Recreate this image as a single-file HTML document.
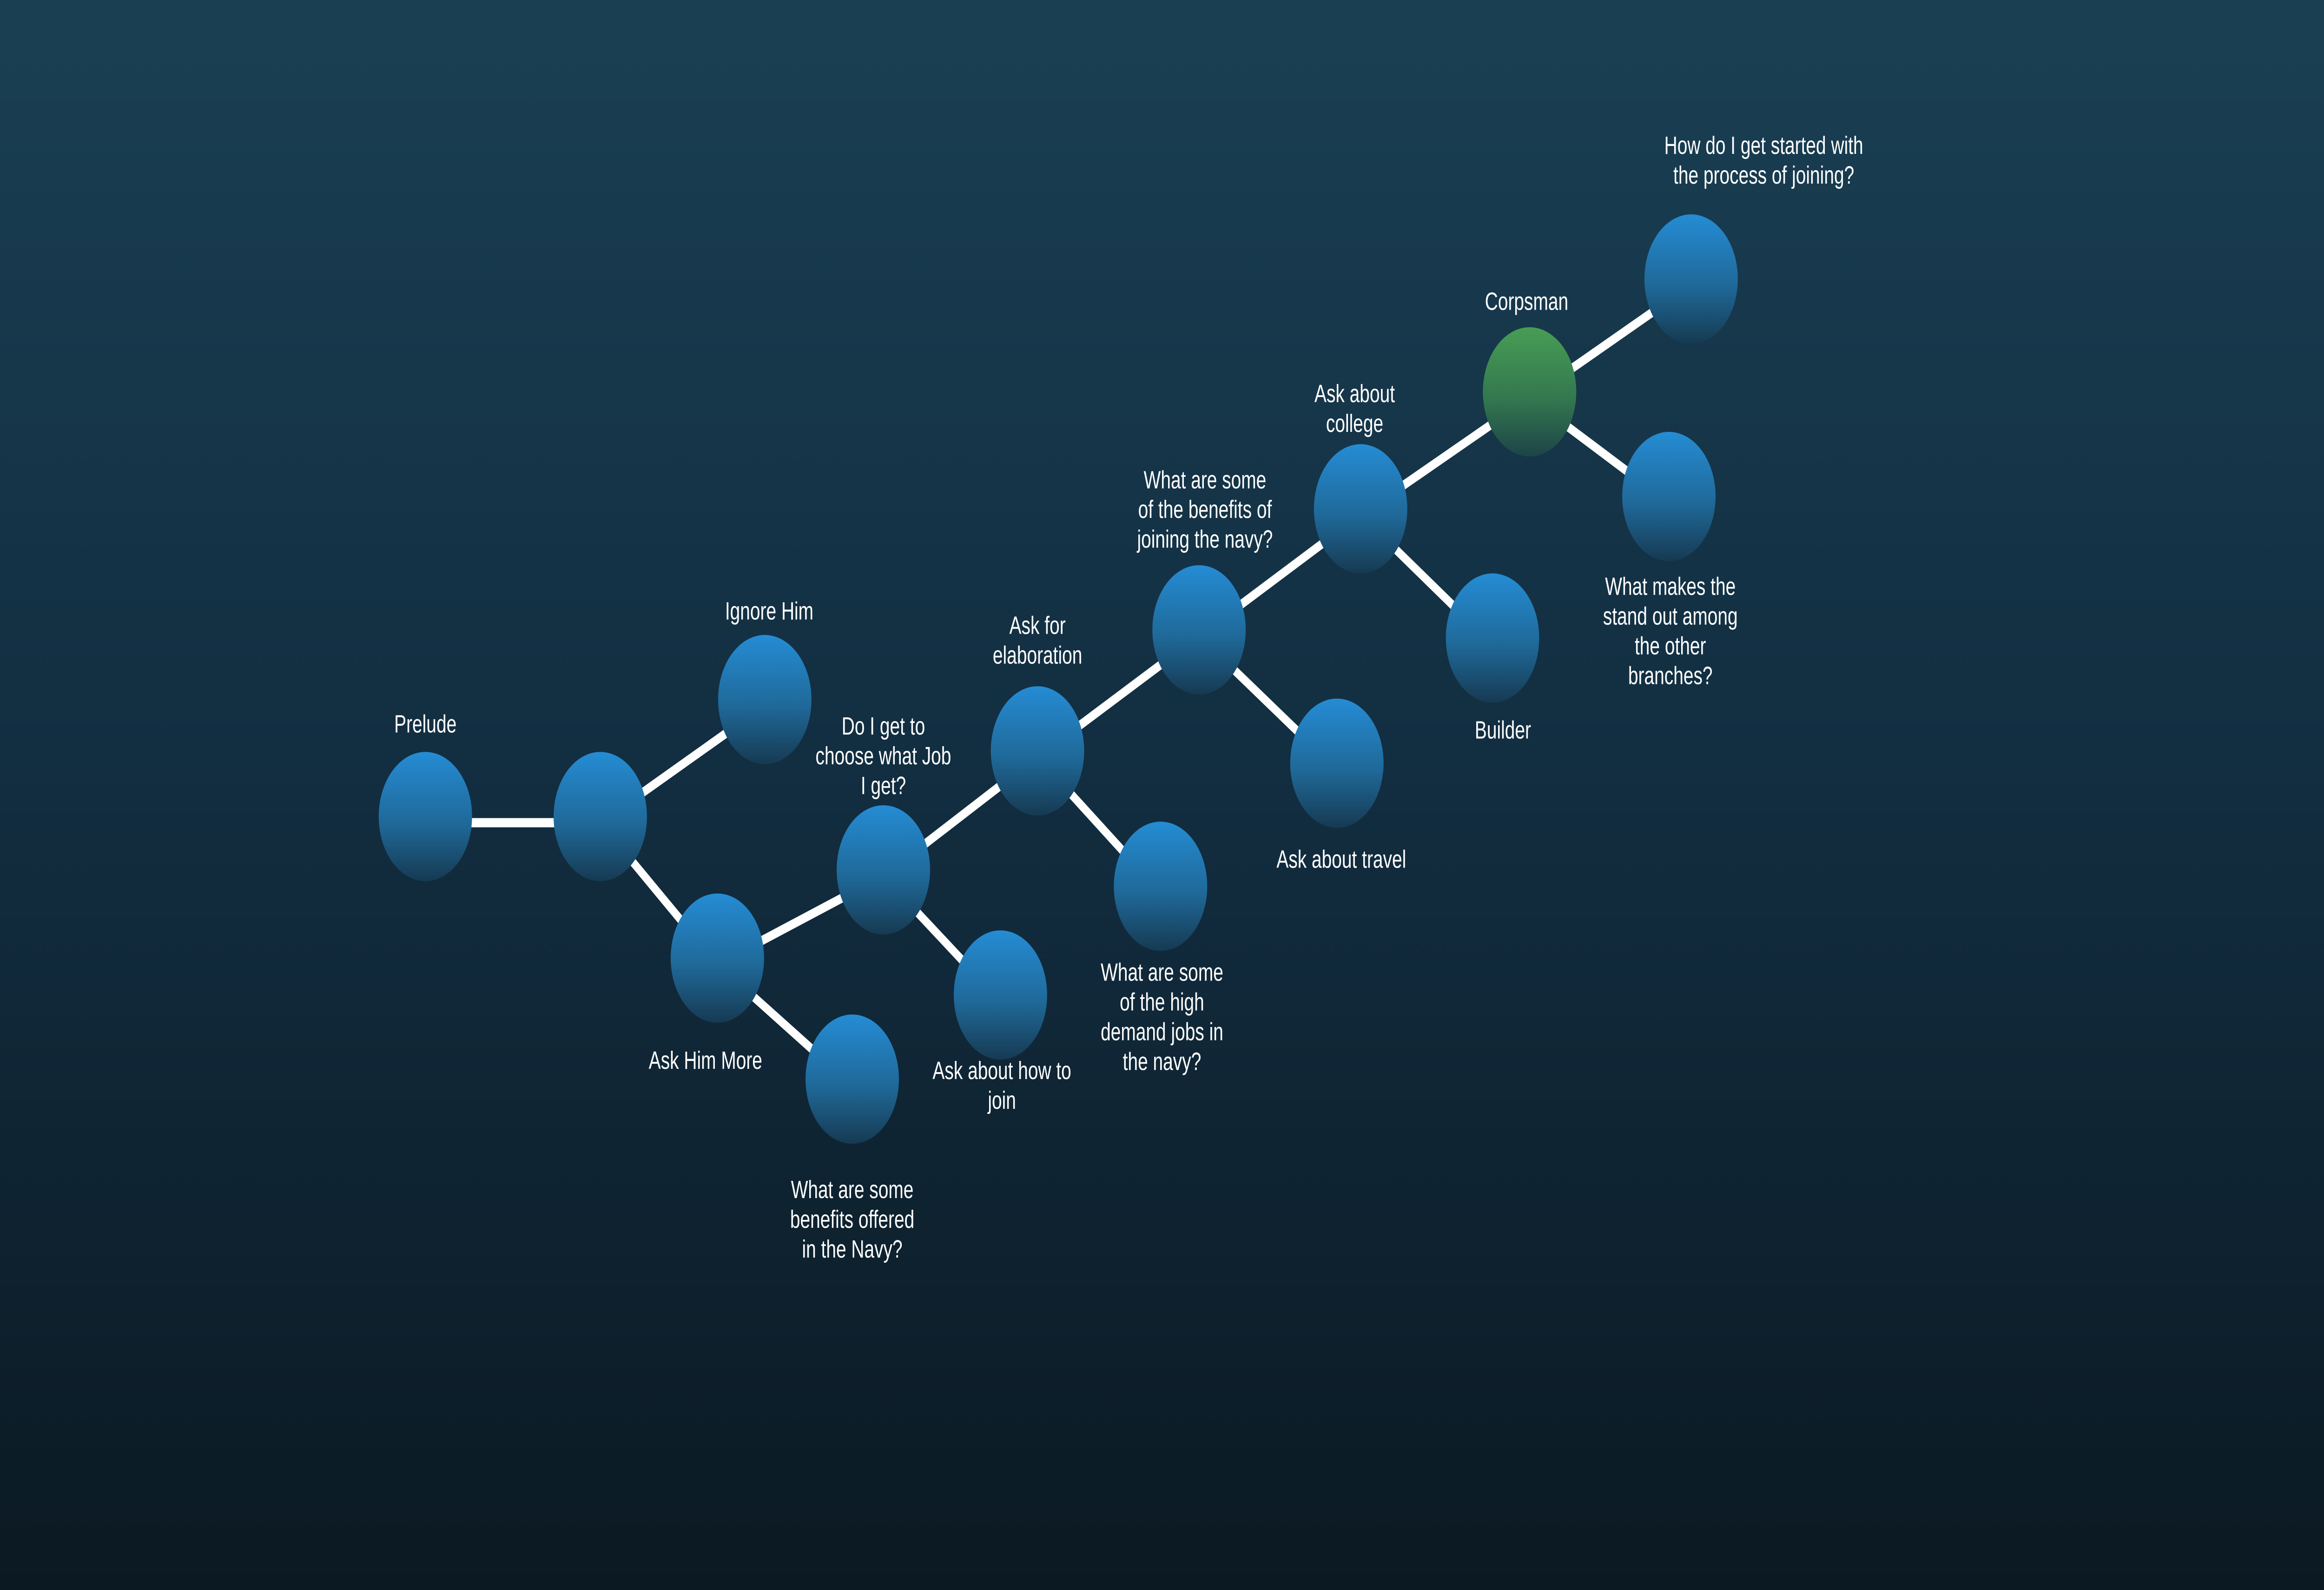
<!DOCTYPE html>
<html><head><meta charset="utf-8"><style>
html,body{margin:0;padding:0;width:100vw;height:100vh;overflow:hidden;background:#0b1922}
svg{display:block;width:100vw;height:100vh}
text{font-family:"Liberation Sans",sans-serif;fill:#fff;text-anchor:middle}
</style></head><body>
<svg id="chart" viewBox="0 0 1568 775" preserveAspectRatio="none" xmlns="http://www.w3.org/2000/svg">
<defs>
<linearGradient id="bg" x1="0" y1="0" x2="0" y2="1">
<stop offset="0" stop-color="#1a3f53"/><stop offset="0.5" stop-color="#122d40"/><stop offset="1" stop-color="#0b1922"/>
</linearGradient>
<linearGradient id="gb" x1="0" y1="0" x2="0" y2="1">
<stop offset="0" stop-color="#258cd4"/><stop offset="0.55" stop-color="#1f6999"/><stop offset="1" stop-color="#163a52"/>
</linearGradient>
<linearGradient id="gg" x1="0" y1="0" x2="0" y2="1">
<stop offset="0" stop-color="#479d55"/><stop offset="0.55" stop-color="#33784e"/><stop offset="1" stop-color="#1d4448"/>
</linearGradient>
</defs>
<rect x="0" y="0" width="1568" height="775" fill="url(#bg)"/>
<g id="edges"></g><g id="nodes"></g><g id="labels"></g>
</svg>
<script>
const nodeX = [287,405,516,484,575,596,675,700,783,809,902,918,1007,1032,1141,1126];
const nodeY = [398,398,341,467,526,424,485,366,432,307,372,248,311,191,136,242];
const nodeNames = ['prelude','node-2','ignore-him','ask-him-more','benefits-offered','choose-job','how-to-join','ask-elaboration','high-demand-jobs','benefits-of-joining','ask-travel','ask-college','builder','corpsman','how-to-start','stand-out'];
const edgeFrom = [0,1,1,3,3,5,5,7,7,9,9,11,11,13,13];
const edgeTo   = [1,2,3,4,5,6,7,8,9,10,11,12,13,14,15];
const labelText = [
 ['Prelude'],[],['Ignore Him'],['Ask Him More'],['What are some','benefits offered','in the Navy?'],
 ['Do I get to','choose what Job','I get?'],['Ask about how to','join'],['Ask for','elaboration'],
 ['What are some','of the high','demand jobs in','the navy?'],['What are some','of the benefits of','joining the navy?'],
 ['Ask about travel'],['Ask about','college'],['Builder'],['Corpsman'],
 ['How do I get started with','the process of joining?'],['What makes the','stand out among','the other','branches?']];
const labelX = [287,405,519,476,575,596,676,700,784,813,905,914,1014,1030,1190,1127];
const labelY = [357,0,302,521,584,358,526,309,478,238,423,196,360,151,75,290];
const ns='http://www.w3.org/2000/svg';
const E=document.getElementById('edges'),N=document.getElementById('nodes'),L=document.getElementById('labels');
for(let i=0;i<edgeFrom.length;i++){
 const a=edgeFrom[i],b=edgeTo[i];
 const l=document.createElementNS(ns,'line');
 
 
 l.setAttribute('x1',nodeX[a]);l.setAttribute('y1',nodeY[a]+3);
 l.setAttribute('x2',nodeX[b]);l.setAttribute('y2',nodeY[b]+3);
 l.setAttribute('stroke','#fff');l.setAttribute('stroke-width','4.5');
 E.appendChild(l);
}
for(let i=0;i<nodeX.length;i++){
 const c=document.createElementNS(ns,'circle');
 
 
 c.setAttribute('cx',nodeX[i]);c.setAttribute('cy',nodeY[i]);c.setAttribute('r','31.5');
 c.setAttribute('fill',i===13?'url(#gg)':'url(#gb)');
 N.appendChild(c);
 labelText[i].forEach((s,k)=>{
  const t=document.createElementNS(ns,'text');
  
  
  t.setAttribute('x',labelX[i]);t.setAttribute('y',labelY[i]+k*14.5);
  t.setAttribute('font-size','12.2');
  t.textContent=s;L.appendChild(t);
 });
}
</script>
</body></html>
